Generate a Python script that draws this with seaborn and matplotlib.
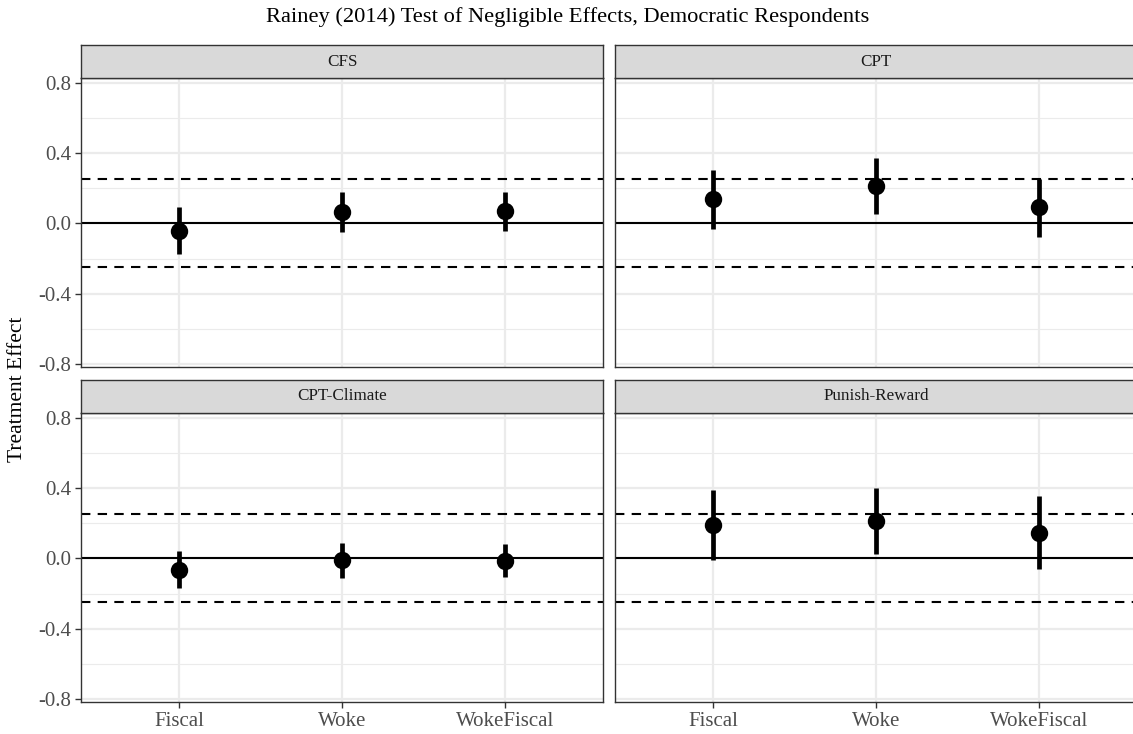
import numpy as np
import pandas as pd
import matplotlib
matplotlib.use("Agg")
import matplotlib.pyplot as plt
import seaborn as sns

# ---- data -------------------------------------------------------------
models = ["CFS", "CPT", "CPT-Climate", "Punish-Reward"]
treatments = ["Fiscal", "Woke", "WokeFiscal"]

estimate = {
    "CFS":           [-0.044, 0.063, 0.070],
    "CPT":           [0.137, 0.213, 0.093],
    "CPT-Climate":   [-0.063, -0.010, -0.015],
    "Punish-Reward": [0.190, 0.213, 0.147],
}
ci_low = {
    "CFS":           [-0.175, -0.050, -0.040],
    "CPT":           [-0.030, 0.055, -0.078],
    "CPT-Climate":   [-0.168, -0.111, -0.107],
    "Punish-Reward": [-0.010, 0.023, -0.057],
}
ci_high = {
    "CFS":           [0.093, 0.180, 0.180],
    "CPT":           [0.303, 0.370, 0.255],
    "CPT-Climate":   [0.041, 0.089, 0.080],
    "Punish-Reward": [0.390, 0.400, 0.352],
}
negligible_bound = 0.25
y_ticks = [-0.8, -0.4, 0.0, 0.4, 0.8]
y_minor = [-0.6, -0.2, 0.2, 0.6]

# long table: lower bound, estimate and upper bound per treatment, so that
# the median gives the point and the full percentile range gives the interval
rows = []
for m in models:
    for i, t in enumerate(treatments):
        for v in (ci_low[m][i], estimate[m][i], ci_high[m][i]):
            rows.append({"model": m, "treatment": t, "value": v})
df = pd.DataFrame(rows)

# ---- styling -----------------------------------------------------------
sns.set_theme(style="white")
plt.rcParams["font.family"] = ["Liberation Serif", "DejaVu Serif"]

W, H = 1133, 734
fig = plt.figure(figsize=(W / 100, H / 100), dpi=100)

grid_col = "#EBEBEB"
border_col = "#333333"
text_col = "#4D4D4D"

panel_w = 522
panel_h = 289
strip_h = 33
lefts = [81, 615]
tops = [78, 413]
ylim = (-0.815, 0.826)


def px_rect(x0, top, w, h):
    return [x0 / W, 1 - (top + h) / H, w / W, h / H]


for k, m in enumerate(models):
    r, c = divmod(k, 2)
    x0, top = lefts[c], tops[r]
    ax = fig.add_axes(px_rect(x0, top, panel_w, panel_h))
    sub = df[df["model"] == m]

    sns.pointplot(
        data=sub, x="treatment", y="value", order=treatments,
        estimator="median", errorbar=("pi", 100),
        color="black", linestyle="none", markers="o", markersize=10.5,
        err_kws={"linewidth": 3.4, "solid_capstyle": "butt"}, ax=ax, zorder=5,
    )

    ax.set_xlim(-0.6, 2.6)
    ax.set_ylim(*ylim)
    ax.set_facecolor("white")

    # grid
    for y in y_minor:
        ax.axhline(y, color=grid_col, lw=0.8, zorder=0)
    for y in y_ticks:
        ax.axhline(y, color=grid_col, lw=1.6, zorder=0)
    for x in range(len(treatments)):
        ax.axvline(x, color=grid_col, lw=1.6, zorder=0)

    # reference lines
    ax.axhline(0, color="black", lw=1.5, zorder=2)
    for b in (-negligible_bound, negligible_bound):
        ax.axhline(b, color="black", lw=1.5, ls=(0, (4.5, 3.5)), zorder=2)

    ax.set_yticks(y_ticks)
    ax.set_xlabel("")
    ax.set_ylabel("")
    for s in ax.spines.values():
        s.set_color(border_col)
        s.set_linewidth(1.0)
    ax.tick_params(axis="both", length=4, width=1.0, color=border_col,
                   labelcolor=text_col, labelsize=15, pad=3,
                   bottom=True, left=True)
    if c == 0:
        ax.set_yticklabels([f"{v:.1f}" for v in y_ticks])
    else:
        ax.tick_params(axis="y", left=False, labelleft=False)
    if r == 0:
        ax.tick_params(axis="x", bottom=False, labelbottom=False)
    else:
        ax.set_xticklabels(treatments)

    # facet strip
    sax = fig.add_axes(px_rect(x0, top - strip_h, panel_w, strip_h))
    sax.set_facecolor("#D9D9D9")
    sax.set_xticks([])
    sax.set_yticks([])
    for s in sax.spines.values():
        s.set_color(border_col)
        s.set_linewidth(1.0)
    sax.text(0.5, 0.5, m, ha="center", va="center", fontsize=12.3,
             color="#1A1A1A", transform=sax.transAxes)

fig.text(568 / W, 1 - 17 / H,
         "Rainey (2014) Test of Negligible Effects, Democratic Respondents",
         ha="center", va="center", fontsize=16.2, color="black")
fig.text(18 / W, 1 - 389 / H, "Treatment Effect", rotation=90,
         ha="center", va="center", fontsize=15.5, color="black")

fig.savefig("out.png", dpi=100, facecolor="white")
